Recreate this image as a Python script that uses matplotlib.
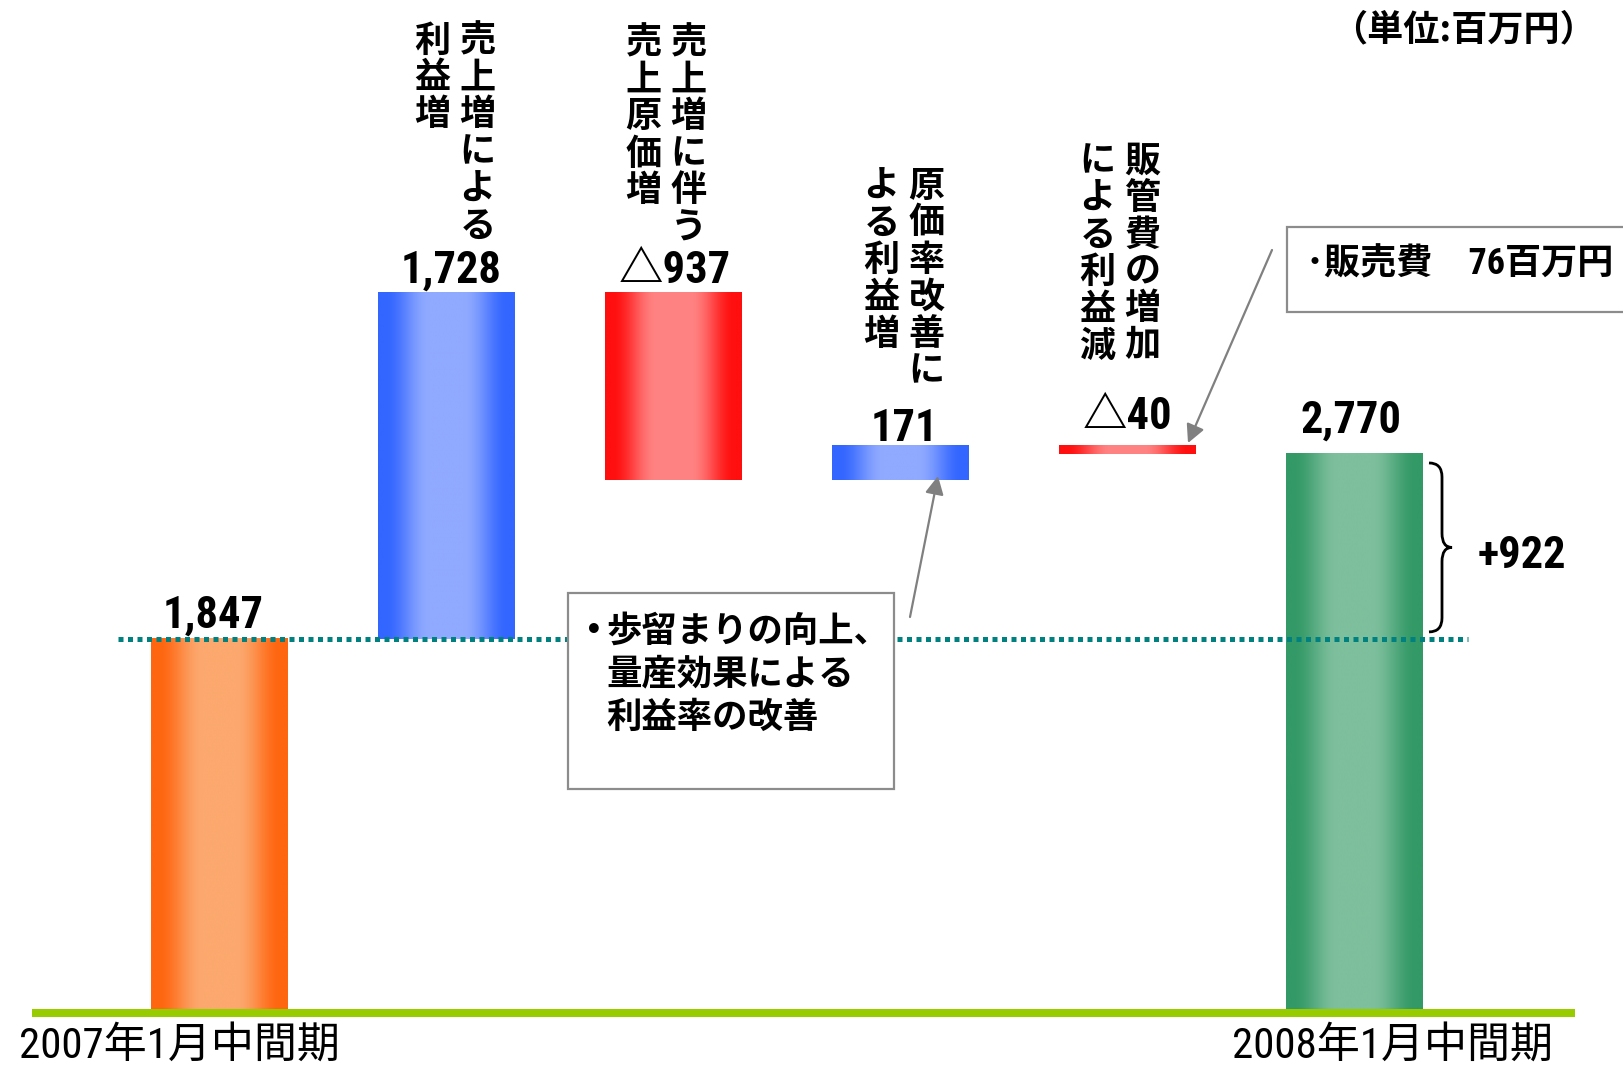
import numpy as np
import matplotlib
matplotlib.use("Agg")
import matplotlib.pyplot as plt
from matplotlib import font_manager
from matplotlib.transforms import Affine2D, blended_transform_factory, offset_copy
from matplotlib.patches import Rectangle, PathPatch
from matplotlib.path import Path

# data (百万円)
periods = ["2007年1月中間期", "2008年1月中間期"]
values = [1847, 1728, -937, 171, -40, 2770]
kinds = ["total", "delta", "delta", "delta", "delta", "total"]
# vertical captions, right column first
captions = [None,
            ["売上増による", "利益増"],
            ["売上増に伴う", "売上原価増"],
            ["原価率改善に", "よる利益増"],
            ["販管費の増加", "による利益減"],
            None]
change = 922
note_lines = ["歩留まりの向上、", "量産効果による", "利益率の改善"]
sales_cost = 76

# fonts: a narrow face for digits if one is installed
names = {f.name for f in font_manager.fontManager.ttflist}
narrow = [n for n in ["Liberation Sans Narrow", "Roboto Condensed", "Open Sans Condensed"]
          if n in names]
NUM = narrow + ["Noto Sans CJK JP", "DejaVu Sans"]
JP = ["Noto Sans CJK JP", "DejaVu Sans"]

W, H = 1623, 1066
fig = plt.figure(figsize=(W / 100, H / 100), dpi=100)
ax = fig.add_axes([0, 0, 1, 1])
ax.axis("off")
pix = Affine2D().scale(1 / W, -1 / H).translate(0, 1) + fig.transFigure

# waterfall geometry
x = np.arange(len(values))
bottoms, heights = [], []
run = 0
for v, k in zip(values, kinds):
    if k == "total":
        bottoms.append(0); heights.append(v); run = v
    else:
        if v >= 0:
            bottoms.append(run); heights.append(v)
        else:
            bottoms.append(run + v); heights.append(-v)
        run += v
tops = [b + h for b, h in zip(bottoms, heights)]

shades = {"orange": ("#FF6610", "#FCA86E"), "green": ("#339966", "#7EBF9D"),
          "blue": ("#3366FF", "#90AAFF"), "red": ("#FF0F0F", "#FF8282")}
fills = []
for i, (v, k) in enumerate(zip(values, kinds)):
    if k == "total":
        fills.append("orange" if i == 0 else "green")
    else:
        fills.append("blue" if v >= 0 else "red")

bars = ax.bar(x, heights, bottom=bottoms, width=0.6, color="none", edgecolor="none")
t = np.linspace(-1, 1, 300)
s = np.clip((np.abs(t) - 0.25) / 0.65, 0, 1)
s = s * s * (3 - 2 * s)
for b, f in zip(bars, fills):
    dark = np.array(matplotlib.colors.to_rgb(shades[f][0]))
    light = np.array(matplotlib.colors.to_rgb(shades[f][1]))
    img = light[None, :] * (1 - s[:, None]) + dark[None, :] * s[:, None]
    x0, y0 = b.get_x(), b.get_y()
    ax.imshow(img[None, :, :], extent=[x0, x0 + b.get_width(), y0, y0 + b.get_height()],
              aspect="auto", zorder=2, interpolation="bilinear")
ax.set_xlim(-0.967, 6.183)
ax.set_ylim(-284, 5035)

# base line and start level
ax.hlines(-20, -0.826, 5.971, color="#99CC00", lw=5.8, capstyle="butt", zorder=1)
ax.hlines(values[0], -0.447, 5.5, color="#00807F", lw=3.6,
          linestyle=(0, (1, 0.9)), zorder=5)

# value labels
dx = [-6, 5, 1, 4, 0, -3]
dy = [11, 10, 10, 5, 17, 21]
for i, v in enumerate(values):
    lab = f"{v:,}" if v >= 0 else f"△{-v:,}"
    ax.annotate(lab, xy=(x[i], tops[i]), xytext=(dx[i], dy[i]), textcoords="offset pixels",
                ha="center", va="baseline", fontsize=32, fontweight="bold",
                family=NUM, zorder=6)

# vertical captions
cap_top = [0, 23, 25, 168, 143]
cap_shift = [0, 9, -7, 4, -7]
col_dx = [22, -23]
tr = blended_transform_factory(ax.transData, pix)
for j, cols in enumerate(captions):
    if not cols:
        continue
    for c, col in enumerate(cols):
        trc = offset_copy(tr, fig=fig, x=col_dx[c] + cap_shift[j], y=0, units="dots")
        for i, ch in enumerate(col):
            ax.text(x[j], cap_top[j] + 18 + i * 37, ch, transform=trc, ha="center",
                    va="center", fontsize=26, fontweight="bold", family=JP)

# period labels
for xi, off in [(0, -40), (len(values) - 1, 38)]:
    ax.annotate(periods[0 if xi == 0 else 1], xy=(x[xi], 0), xytext=(off, -49),
                textcoords="offset pixels", ha="center", va="baseline", fontsize=31,
                family=NUM)

# unit
ax.text(1463, 30, "（単位:百万円）", transform=pix, ha="center", va="center",
        fontsize=26, fontweight="bold", family=JP)

# note box
ax.add_patch(Rectangle((568, 593), 326, 196, transform=pix, facecolor="white",
                       edgecolor="#8C8C8C", lw=1.6, zorder=6))
ax.text(594, 631, "•", transform=pix, ha="center", va="center", fontsize=20,
        fontweight="bold", family=["DejaVu Sans"], zorder=7)
for i, line in enumerate(note_lines):
    ax.text(606, 631 + i * 43, line, transform=pix, ha="left", va="center",
            fontsize=25.5, fontweight="bold", family=JP, zorder=7)
arrow = dict(arrowstyle="-|>,head_length=0.55,head_width=0.28", color="#808080",
             lw=1.6, mutation_scale=20, shrinkA=0, shrinkB=0)
ax.annotate("", xy=(938, 476), xytext=(910, 617), xycoords=pix, textcoords=pix,
            arrowprops=arrow, zorder=7)

# sales cost box
ax.add_patch(Rectangle((1287, 227), 400, 85, transform=pix, facecolor="white",
                       edgecolor="#8C8C8C", lw=1.6, zorder=6))
ax.text(1306, 264, f"･販売費　{sales_cost}百万円", transform=pix, ha="left", va="center",
        fontsize=26, fontweight="bold", family=NUM, zorder=7)
ax.annotate("", xy=(1188, 443), xytext=(1272, 250), xycoords=pix, textcoords=pix,
            arrowprops=arrow, zorder=7)

# brace for the change
bt = blended_transform_factory(pix, ax.transData)
top_b, bot_b = values[-1] - 45, values[0] + 35
mid = (top_b + bot_b) / 2
r = 70
verts = [(1429, top_b), (1442, top_b), (1442, top_b - r),
         (1442, mid + r), (1442, mid), (1452, mid),
         (1442, mid), (1442, mid - r),
         (1442, bot_b + r), (1442, bot_b), (1429, bot_b)]
codes = [Path.MOVETO, Path.CURVE3, Path.CURVE3, Path.LINETO, Path.CURVE3, Path.CURVE3,
         Path.CURVE3, Path.CURVE3, Path.LINETO, Path.CURVE3, Path.CURVE3]
ax.add_patch(PathPatch(Path(verts, codes), transform=bt, facecolor="none",
                       edgecolor="black", lw=2, zorder=6))
ax.text(1522, 556, f"+{change}", transform=pix, ha="center", va="center",
        fontsize=32, fontweight="bold", family=NUM)

fig.savefig("out.png", dpi=100)
